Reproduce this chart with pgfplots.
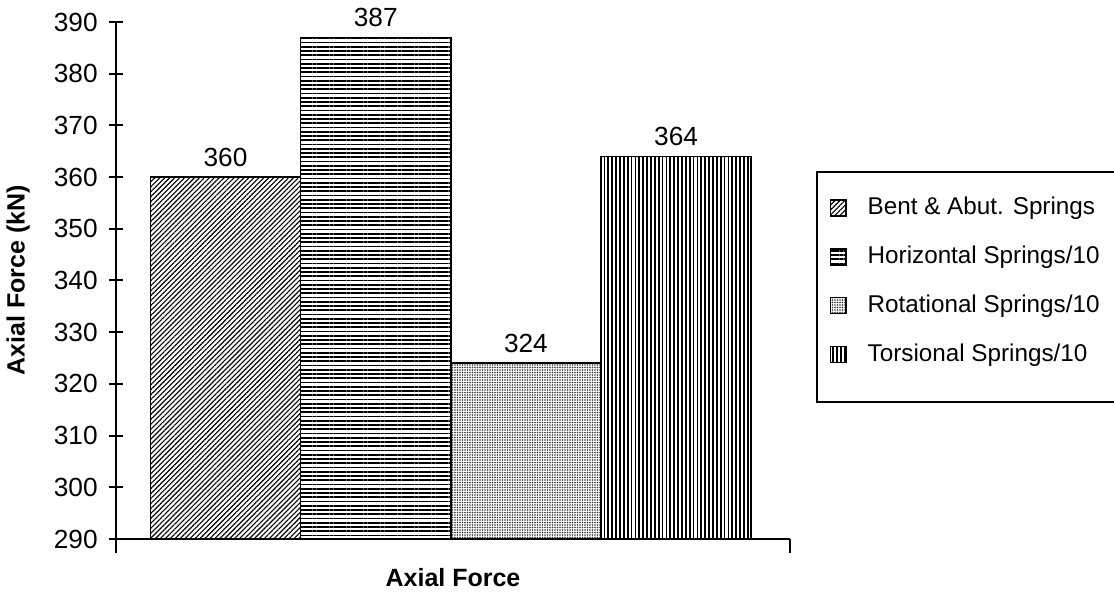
\documentclass[border=0pt]{standalone}
\usepackage{pgfplots}
\pgfplotsset{compat=1.18}
\usepackage{fontspec}
\setmainfont{Liberation Sans}
\setsansfont{Liberation Sans}
\usetikzlibrary{patterns,patterns.meta}

% fill styles of the four spring cases
\tikzset{
  bentfill/.style={pattern={Lines[angle=45,distance=1.4pt,line width=0.45pt]}},
  horzfill/.style={pattern={Lines[angle=0,distance=1.7pt,line width=0.75pt]}},
  rotfill/.style={pattern={Dots[distance=1.0pt,radius=0.34pt]},pattern color=black!80},
  torsfill/.style={pattern={Lines[angle=90,distance=1.55pt,line width=0.7pt]}},
}

\begin{document}
\begin{tikzpicture}
\begin{axis}[
  at={(46.4pt,-215.6pt)}, anchor=south west,
  scale only axis,
  width=269.6pt, height=206.8pt,
  xmin=0.271, xmax=4.758,
  ymin=290, ymax=390,
  ytick={290,300,...,390},
  xtick={0.271,4.758},
  xticklabels={},
  axis x line*=bottom,
  axis y line*=left,
  axis line style={line width=0.8pt,-},
  tick align=center,
  major tick length=5.6pt,
  tick style={line width=0.8pt,black},
  /pgf/number format/assume math mode=true,
  tick label style={font=\fontsize{10.5}{12}\selectfont},
  yticklabel style={xshift=-1pt},
  ylabel={\bfseries Axial Force (kN)},
  xlabel={\bfseries Axial Force},
  every axis y label/.style={at={(axis description cs:-0.145,0.5)},rotate=90,anchor=center,font=\fontsize{10}{12}\selectfont},
  every axis x label/.style={at={(axis description cs:0.5,-0.0754)},anchor=center,font=\fontsize{10}{12}\selectfont},
  ybar, bar width=1, bar shift=0pt,
  nodes near coords,
  every node near coord/.append style={font=\fontsize{10.5}{12}\selectfont,yshift=0.5pt},
  legend image code/.code={\draw[#1,line width=0.6pt] (0pt,-3.2pt) rectangle (6.2pt,3.2pt);},
  legend cell align=left,
  legend style={
    name=springlegend,
    at={(rel axis cs:1.040,0.710)}, anchor=north west,
    draw=none,
    font=\fontsize{9.7}{12}\selectfont,
    inner xsep=5pt, inner ysep=8pt,
    row sep=7pt,
    /tikz/every odd column/.append style={column sep=6.3pt},
  },
]
\addplot[draw=black,line width=0.6pt,bentfill] coordinates {(1,360)};
\addlegendentry{\makebox[125pt][l]{Bent \& Abut. Springs}}
\addplot[draw=black,line width=0.6pt,horzfill] coordinates {(2,387)};
\addlegendentry{\makebox[125pt][l]{Horizontal Springs/10}}
\addplot[draw=black,line width=0.6pt,rotfill] coordinates {(3,324)};
\addlegendentry{\makebox[125pt][l]{Rotational Springs/10}}
\addplot[draw=black,line width=0.6pt,torsfill] coordinates {(4,364)};
\addlegendentry{\makebox[125pt][l]{Torsional Springs/10}}
\end{axis}
% legend frame, with a deeper margin below the last entry
\draw[line width=0.8pt] (springlegend.north west) rectangle ([yshift=-4.6pt]springlegend.south east);
\pgfresetboundingbox
\path[use as bounding box] (0pt,0pt) rectangle (445.6pt,-238pt);
\end{tikzpicture}
\end{document}
